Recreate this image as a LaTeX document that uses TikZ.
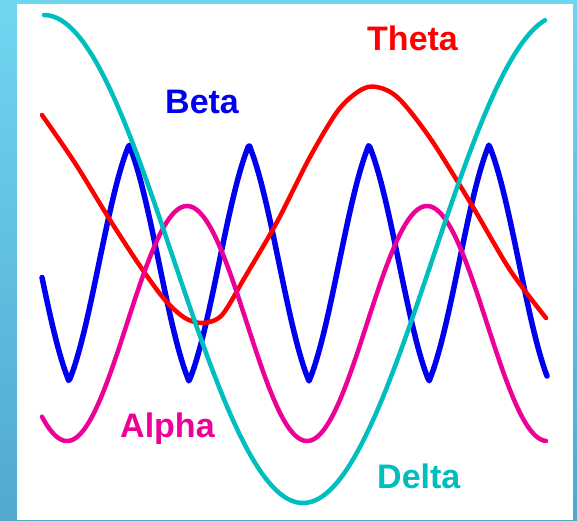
\documentclass[tikz,border=0pt]{standalone}
\usepackage{fontspec}
\setmainfont{Liberation Sans}
\definecolor{frametop}{RGB}{112,214,240}
\definecolor{framebot}{RGB}{82,168,208}
\definecolor{betablue}{RGB}{0,0,240}
\definecolor{thetared}{RGB}{255,0,0}
\definecolor{alphapink}{RGB}{236,0,150}
\definecolor{deltacyan}{RGB}{0,190,190}
\tikzset{
  wave/.style={line cap=round, line join=round},
  lbl/.style={font=\fontsize{34}{36}\selectfont\bfseries, anchor=base west, inner sep=0pt}
}
\begin{document}
\begin{tikzpicture}[x=1pt,y=-1pt]
\useasboundingbox (0,0) rectangle (577,520);
\shade[top color=frametop, bottom color=framebot] (0,0) rectangle (577,520);
\fill[white] (17,4) rectangle (573,520);
% Beta
\draw[wave, betablue, line width=5.5pt, domain=42:547, samples=400, variable=\x]
  plot ({\x},{263+118*(0.4*cos(3*(\x-189))+0.6*(1-acos(cos(3*(\x-189)))/90))});
% Theta
\draw[wave, thetared, line width=4.5pt] plot[smooth] coordinates {
 (42,115) (75,163) (110,220) (140,266) (165,300) (185,318) (203,323)
 (222,315) (245,277) (277,222) (310,157) (340,108) (368,87) (396,96)
 (430,138) (470,202) (510,270) (546,318)};
% Alpha
\draw[wave, alphapink, line width=4.5pt, domain=42:546, samples=250, variable=\x]
  plot ({\x},{323.5+117.5*cos(1.5*(\x-307))});
% Delta
\draw[wave, deltacyan, line width=4.5pt, domain=44:545, samples=250, variable=\x]
  plot ({\x},{259+244*cos(0.69498*(\x-303))});
% labels
\node[lbl, text=thetared] (theta) at (367,50) {Theta};
\node[lbl, text=betablue] (beta) at (165,113) {Beta};
\node[lbl, text=alphapink] (alpha) at (120,437) {Alpha};
\node[lbl, text=deltacyan] (delta) at (377,488) {Delta};
\end{tikzpicture}
\end{document}
